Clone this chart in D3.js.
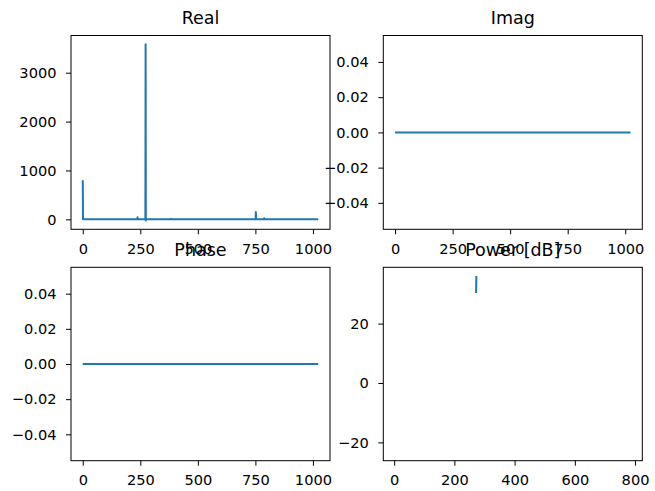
<!DOCTYPE html>
<html>
<head>
<meta charset="utf-8">
<script src="https://cdn.jsdelivr.net/npm/d3@7"></script>
<style>
  body { margin: 0; background: #fff; }
  svg { display: block; font-family: "DejaVu Sans", sans-serif; }
  .tick text { fill: #000; }
  .tick line { stroke: #000; stroke-width: 1; }
</style>
</head>
<body>
<svg id="fig" width="655" height="491"></svg>
<script>
// spectrum bins (sparse: bin index -> value, line goes through them in order)
var realBins = [0, 1, 237, 238, 239, 272, 273, 274, 275, 383, 384, 385, 751, 752, 753, 787, 788, 789, 1023];
var realVals = [800, 0, 0, 40, 0, 0, 3581, -24, 0, 0, 10, 0, 0, 150, 0, 0, 20, 0, 0];

var imagBins = [0, 1023];
var imagVals = [0, 0];

var phaseBins = [0, 1023];
var phaseVals = [0, 0];

// power in dB, null where the log is -inf (gaps)
var powerX  = [3, 4, 272, 273, 274, 785];
var powerDb = [-23.2, null, 30.3, 36.0, null, 8.5];

var indexTicks = [0, 250, 500, 750, 1000];
var realTicks = [0, 1000, 2000, 3000];
var smallTicks = [-0.04, -0.02, 0, 0.02, 0.04];
var powerXTicks = [0, 200, 400, 600, 800];
var powerYTicks = [-20, 0, 20];

var svg = d3.select("#fig");
var minus = function(s) { return s.replace("-", "\u2212"); };

function pad(ext) {
  var span = ext[1] - ext[0];
  if (span === 0) return [ext[0] - 0.055, ext[1] + 0.055];
  return [ext[0] - 0.05 * span, ext[1] + 0.05 * span];
}

function drawPanel(o) {
  var x0 = o.left, x1 = o.right, y0 = o.top, y1 = o.bottom;
  var pts = o.xs.map(function(x, i) { return {x: x, y: o.ys[i]}; });
  var fin = pts.filter(function(d) { return d.y != null; });

  var x = d3.scaleLinear().domain(pad(d3.extent(fin, function(d) { return d.x; }))).range([x0, x1]);
  var y = d3.scaleLinear().domain(pad(d3.extent(fin, function(d) { return d.y; }))).range([y1, y0]);

  var g = svg.append("g");

  var line = d3.line()
    .defined(function(d) { return d.y != null; })
    .x(function(d) { return x(d.x); })
    .y(function(d) { return y(d.y); });

  g.append("path")
    .datum(pts)
    .attr("d", line)
    .attr("fill", "none")
    .attr("stroke", "#1f77b4")
    .attr("stroke-width", 2)
    .attr("stroke-linejoin", "round");

  var xa = g.append("g").attr("transform", "translate(0," + y1 + ")")
    .call(d3.axisBottom(x).tickValues(o.xTicks).tickSize(5).tickPadding(9)
      .tickFormat(function(d) { return minus(d3.format(o.xFmt || "d")(d)); }));
  var ya = g.append("g").attr("transform", "translate(" + x0 + ",0)")
    .call(d3.axisLeft(y).tickValues(o.yTicks).tickSize(5).tickPadding(9.5)
      .tickFormat(function(d) { return minus(d3.format(o.yFmt || "d")(d)); }));
  xa.select(".domain").remove();
  ya.select(".domain").remove();
  xa.selectAll("text").attr("font-family", "DejaVu Sans").attr("font-size", 14.6);
  ya.selectAll("text").attr("font-family", "DejaVu Sans").attr("font-size", 14.6);

  g.append("rect")
    .attr("x", x0).attr("y", y0)
    .attr("width", x1 - x0).attr("height", y1 - y0)
    .attr("fill", "none").attr("stroke", "#000").attr("stroke-width", 1);

  g.append("text")
    .attr("x", (x0 + x1) / 2).attr("y", y0 - 11.5)
    .attr("text-anchor", "middle")
    .attr("font-size", 17.5).attr("fill", "#000")
    .text(o.title);
}

drawPanel({title: "Real", xs: realBins, ys: realVals, left: 71, right: 330, top: 35.5, bottom: 229.3,
  xTicks: indexTicks, yTicks: realTicks});
drawPanel({title: "Imag", xs: imagBins, ys: imagVals, left: 383.3, right: 642.3, top: 35.5, bottom: 229.3,
  xTicks: indexTicks, yTicks: smallTicks, yFmt: ".2f"});
drawPanel({title: "Phase", xs: phaseBins, ys: phaseVals, left: 71, right: 330, top: 267.3, bottom: 460.7,
  xTicks: indexTicks, yTicks: smallTicks, yFmt: ".2f"});
drawPanel({title: "Power [dB]", xs: powerX, ys: powerDb, left: 383.3, right: 642.3, top: 267.3, bottom: 460.7,
  xTicks: powerXTicks, yTicks: powerYTicks});
</script>
</body>
</html>
